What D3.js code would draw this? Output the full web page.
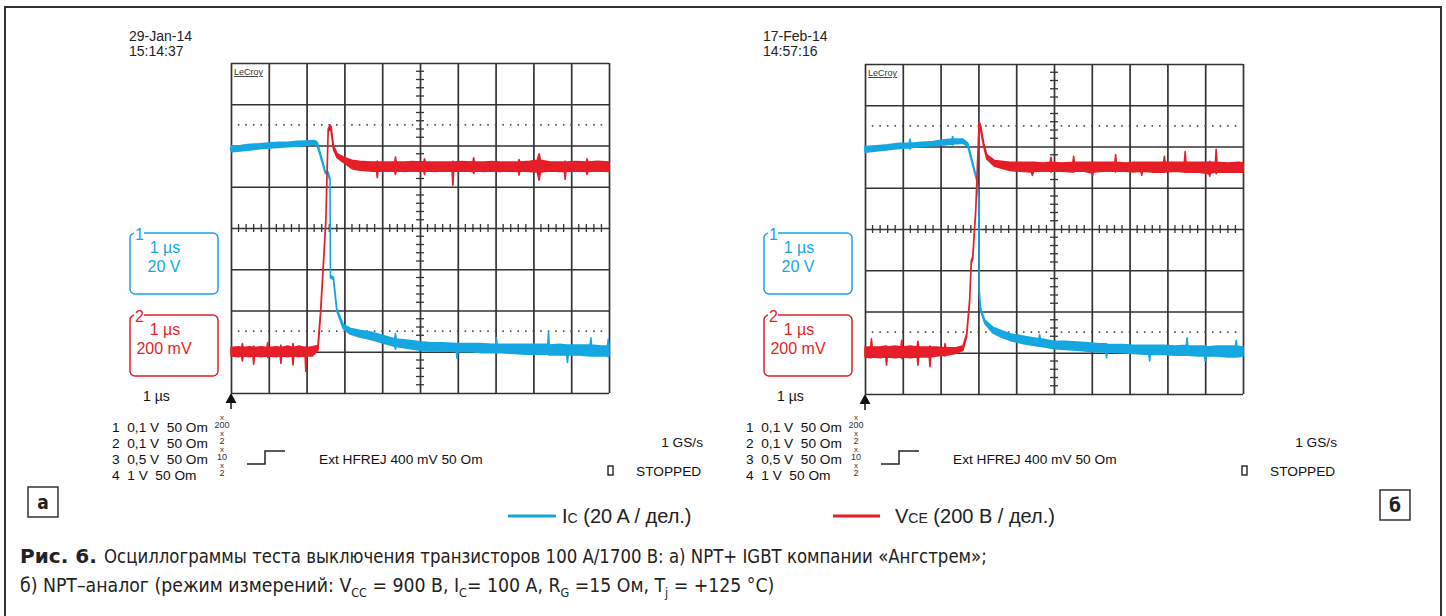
<!DOCTYPE html>
<html><head><meta charset="utf-8">
<script src="https://cdn.jsdelivr.net/npm/d3@7"></script>
<style>
html,body{margin:0;padding:0;background:#fff;}
svg{display:block;}
text{font-family:"Liberation Sans",Arial,sans-serif;}
.cap{font-family:"Liberation Sans Narrow","DejaVu Sans Condensed","Liberation Sans",sans-serif;font-stretch:condensed;}
</style>
</head><body>
<script>
// ---------- data (time in divisions 0..10, value in divisions -4..4: [t, low, high]) ----------
const icA = [[0,1.85,1.99],[0.25,1.87,2.00],[0.5,1.89,2.03],[0.75,1.92,2.04],[1.0,1.94,2.06],[1.25,1.95,2.08],[1.5,1.97,2.08],[1.75,1.98,2.10],[2.0,2.00,2.11],[2.2,2.03,2.12],[2.28,2.00,2.08],[2.35,1.79,1.86],[2.49,1.33,1.39],[2.57,1.30,1.36],[2.62,1.13,1.19],[2.63,-1.21,-1.15],[2.71,-1.25,-1.19],[2.80,-2.02,-1.96],[2.97,-2.44,-2.34],[3.15,-2.57,-2.43],[3.4,-2.64,-2.48],[3.7,-2.70,-2.52],[4.0,-2.78,-2.60],[4.3,-2.86,-2.68],[4.33,-2.87,-2.68],[4.35,-2.94,-2.56],[4.37,-2.87,-2.69],[4.7,-2.92,-2.72],[5.0,-2.96,-2.76],[5.3,-2.98,-2.78],[5.6,-2.98,-2.78],[5.96,-2.99,-2.80],[5.98,-3.16,-2.80],[6.00,-2.99,-2.80],[6.3,-3.00,-2.80],[6.6,-3.02,-2.80],[6.9,-3.02,-2.82],[7.0,-3.02,-2.82],[7.02,-3.02,-2.66],[7.04,-3.02,-2.82],[7.5,-3.04,-2.82],[7.8,-3.06,-2.82],[8.1,-3.06,-2.82],[8.38,-3.06,-2.82],[8.40,-3.08,-2.52],[8.42,-3.07,-2.84],[8.7,-3.08,-2.82],[8.88,-3.08,-2.84],[8.90,-3.26,-2.84],[8.92,-3.08,-2.84],[9.2,-3.08,-2.84],[9.5,-3.10,-2.84],[9.52,-3.10,-2.66],[9.54,-3.10,-2.84],[9.8,-3.10,-2.86],[9.96,-3.10,-2.86],[9.98,-3.12,-2.70],[10,-3.10,-2.84]];
const vceA = [[0,-3.10,-2.90],[0.2,-3.12,-2.88],[0.28,-3.10,-2.90],[0.30,-3.22,-2.80],[0.32,-3.10,-2.90],[0.5,-3.12,-2.88],[0.58,-3.10,-2.90],[0.60,-3.30,-2.86],[0.62,-3.10,-2.90],[0.8,-3.12,-2.88],[0.95,-3.10,-2.90],[0.97,-3.14,-2.78],[0.99,-3.10,-2.90],[1.2,-3.12,-2.88],[1.30,-3.10,-2.90],[1.32,-3.28,-2.84],[1.34,-3.10,-2.90],[1.5,-3.12,-2.86],[1.62,-3.10,-2.90],[1.64,-3.32,-2.80],[1.66,-3.10,-2.90],[1.8,-3.12,-2.86],[1.96,-3.10,-2.90],[1.98,-3.48,-2.88],[2.00,-3.10,-2.90],[2.15,-3.10,-2.88],[2.3,-2.96,-2.85],[2.37,-2.10,-2.02],[2.51,0.15,0.22],[2.57,2.33,2.40],[2.62,2.40,2.50],[2.65,2.35,2.45],[2.71,1.90,2.00],[2.81,1.70,1.80],[3.02,1.56,1.70],[3.2,1.44,1.64],[3.4,1.40,1.62],[3.7,1.38,1.60],[3.85,1.38,1.60],[3.87,1.22,1.62],[3.89,1.38,1.60],[4.1,1.38,1.60],[4.33,1.38,1.60],[4.35,1.30,1.72],[4.37,1.38,1.60],[4.6,1.37,1.60],[4.8,1.38,1.61],[5.0,1.37,1.60],[5.1,1.38,1.60],[5.12,1.30,1.68],[5.14,1.38,1.60],[5.4,1.37,1.60],[5.6,1.38,1.60],[5.85,1.38,1.60],[5.87,1.04,1.62],[5.89,1.38,1.60],[6.1,1.38,1.61],[6.4,1.37,1.60],[6.42,1.32,1.70],[6.44,1.38,1.60],[6.7,1.37,1.60],[6.9,1.38,1.61],[7.1,1.37,1.60],[7.3,1.38,1.60],[7.6,1.37,1.60],[7.62,1.28,1.66],[7.64,1.38,1.60],[7.9,1.37,1.62],[8.1,1.36,1.64],[8.15,1.16,1.80],[8.19,1.36,1.64],[8.45,1.38,1.60],[8.7,1.37,1.60],[8.82,1.37,1.60],[8.84,1.18,1.62],[8.86,1.37,1.60],[9.1,1.38,1.61],[9.4,1.37,1.60],[9.42,1.30,1.68],[9.44,1.37,1.60],[9.7,1.38,1.62],[10,1.37,1.60]];
const icB = [[0,1.86,2.00],[0.3,1.89,2.02],[0.6,1.92,2.04],[0.9,1.95,2.08],[1.17,1.97,2.08],[1.19,1.94,2.18],[1.21,1.97,2.08],[1.5,2.00,2.10],[1.8,2.02,2.12],[2.1,2.04,2.16],[2.3,2.06,2.18],[2.32,2.04,2.24],[2.34,2.06,2.18],[2.59,2.08,2.18],[2.72,2.00,2.08],[2.91,1.33,1.39],[2.96,1.16,1.22],[3.01,0.67,0.73],[3.02,-1.51,-1.45],[3.06,-1.99,-1.93],[3.17,-2.29,-2.21],[3.38,-2.52,-2.38],[3.6,-2.62,-2.46],[3.83,-2.70,-2.54],[4.2,-2.78,-2.60],[4.6,-2.84,-2.66],[4.62,-2.84,-2.56],[4.64,-2.84,-2.66],[5.0,-2.90,-2.72],[5.3,-2.92,-2.72],[5.6,-2.94,-2.74],[5.9,-2.96,-2.76],[6.2,-2.98,-2.78],[6.37,-2.98,-2.78],[6.39,-3.12,-2.78],[6.41,-2.98,-2.80],[6.8,-3.00,-2.80],[7.1,-3.02,-2.82],[7.51,-3.04,-2.82],[7.53,-3.20,-2.82],[7.55,-3.04,-2.82],[7.9,-3.04,-2.82],[8.2,-3.06,-2.84],[8.5,-3.06,-2.82],[8.52,-3.06,-2.64],[8.54,-3.06,-2.84],[8.8,-3.08,-2.84],[8.98,-3.08,-2.84],[9.0,-3.20,-2.84],[9.02,-3.08,-2.86],[9.3,-3.08,-2.84],[9.6,-3.10,-2.84],[9.8,-3.10,-2.84],[9.82,-3.10,-2.70],[9.84,-3.10,-2.84],[10,-3.08,-2.86]];
const vceB = [[0,-3.10,-2.86],[0.15,-3.12,-2.86],[0.17,-3.12,-2.66],[0.19,-3.10,-2.86],[0.4,-3.12,-2.86],[0.55,-3.10,-2.84],[0.57,-3.30,-2.84],[0.59,-3.10,-2.86],[0.8,-3.12,-2.84],[0.95,-3.10,-2.86],[0.97,-3.14,-2.70],[0.99,-3.10,-2.86],[1.2,-3.12,-2.84],[1.38,-3.10,-2.86],[1.40,-3.30,-2.72],[1.42,-3.10,-2.86],[1.6,-3.10,-2.86],[1.70,-3.10,-2.86],[1.72,-3.34,-2.84],[1.74,-3.10,-2.86],[1.9,-3.08,-2.86],[2.1,-3.06,-2.88],[2.12,-3.08,-2.78],[2.14,-3.06,-2.88],[2.4,-3.02,-2.88],[2.59,-2.94,-2.84],[2.69,-2.60,-2.54],[2.77,-1.75,-1.69],[2.81,-0.83,-0.77],[2.85,-0.73,-0.67],[2.93,0.43,0.49],[2.99,1.88,1.94],[3.02,2.50,2.60],[3.06,2.40,2.50],[3.14,2.00,2.08],[3.22,1.70,1.80],[3.43,1.52,1.66],[3.83,1.42,1.62],[4.1,1.40,1.62],[4.4,1.38,1.62],[4.43,1.30,1.62],[4.46,1.40,1.62],[4.7,1.40,1.60],[4.9,1.40,1.62],[4.92,1.38,1.74],[4.94,1.40,1.62],[5.2,1.40,1.60],[5.5,1.38,1.62],[5.52,1.38,1.76],[5.54,1.40,1.62],[5.8,1.40,1.62],[6.0,1.36,1.62],[6.02,1.30,1.62],[6.04,1.38,1.62],[6.3,1.40,1.62],[6.61,1.40,1.62],[6.63,1.38,1.80],[6.65,1.40,1.62],[6.9,1.40,1.60],[7.1,1.38,1.62],[7.3,1.40,1.62],[7.32,1.30,1.62],[7.34,1.40,1.62],[7.6,1.38,1.62],[7.9,1.38,1.62],[7.92,1.38,1.76],[7.94,1.38,1.62],[8.2,1.40,1.62],[8.45,1.38,1.62],[8.47,1.38,1.88],[8.49,1.38,1.62],[8.8,1.38,1.62],[9.1,1.34,1.62],[9.12,1.28,1.64],[9.14,1.36,1.62],[9.27,1.38,1.62],[9.29,1.34,1.93],[9.31,1.38,1.62],[9.6,1.38,1.60],[9.9,1.38,1.62],[10,1.38,1.60]];

const panelLetters = ["а", "б"];
const dates = ["29-Jan-14", "17-Feb-14"];
const clocks = ["15:14:37", "14:57:16"];
const chanRows = ["1  0,1 V  50 Om", "2  0,1 V  50 Om", "3  0,5 V  50 Om", "4  1 V  50 Om"];
const probeFactors = ["200", "2", "10", "2"];
const box1 = ["1 µs", "20 V"];
const box2 = ["1 µs", "200 mV"];
const timebase = "1 µs";
const triggerText = "Ext HFREJ 400 mV 50 Om";
const sampleRate = "1 GS/s";
const statusText = "STOPPED";
const dotLevels = [2.5, -2.5];

const BLUE = "#14a7e2", RED = "#e61e27", GRID = "#333";

const svg = d3.select("body").append("svg").attr("width", 1446).attr("height", 616);

// outer frame
svg.append("path").attr("d", "M5,616V7H1441V616").attr("fill", "none").attr("stroke", "#333").attr("stroke-width", 2);

function drawPanel(i, ox, oy, ic, vce) {
  const gw = 378, gh = 330;
  const x = d3.scaleLinear().domain([0, 10]).range([ox, ox + gw]);
  const y = d3.scaleLinear().domain([-4, 4]).range([oy + gh, oy]);
  const g = svg.append("g");

  // header
  g.append("text").attr("x", ox - 102).attr("y", 41).attr("font-size", 14).attr("fill", "#222").text(dates[i]);
  g.append("text").attr("x", ox - 102).attr("y", 56).attr("font-size", 14).attr("fill", "#222").text(clocks[i]);

  // grid via axes
  const gx = g.append("g").attr("transform", `translate(0,${oy + gh})`)
    .call(d3.axisBottom(x).tickValues(d3.range(0, 11)).tickSize(gh).tickFormat("").tickSizeOuter(0));
  gx.selectAll(".tick line").attr("y2", -gh).attr("stroke", GRID).attr("stroke-width", 1.7);
  gx.select(".domain").remove();
  const gy = g.append("g").attr("transform", `translate(${ox},0)`)
    .call(d3.axisLeft(y).tickValues(d3.range(-4, 5)).tickSize(-gw).tickFormat("").tickSizeOuter(0));
  gy.selectAll(".tick line").attr("stroke", GRID).attr("stroke-width", 1.7);
  gy.select(".domain").remove();

  // center graduations
  const subV = d3.range(-4, 4.001, 0.2).filter(v => Math.abs(v - Math.round(v)) > 0.01);
  g.append("g").selectAll("line").data(subV).join("line")
    .attr("x1", x(5) - 4).attr("x2", x(5) + 4).attr("y1", d => y(d)).attr("y2", d => y(d))
    .attr("stroke", GRID).attr("stroke-width", 1.3);
  const subH = d3.range(0, 10.001, 0.2).filter(v => Math.abs(v - Math.round(v)) > 0.01);
  g.append("g").selectAll("line").data(subH).join("line")
    .attr("y1", y(0) - 4).attr("y2", y(0) + 4).attr("x1", d => x(d)).attr("x2", d => x(d))
    .attr("stroke", GRID).attr("stroke-width", 1.3);

  // dotted reference levels
  dotLevels.forEach(lv => {
    g.append("g").selectAll("rect").data(d3.range(0.2, 10, 0.2)).join("rect")
      .attr("x", d => x(d) - 0.8).attr("y", y(lv) - 0.8).attr("width", 1.6).attr("height", 1.6).attr("fill", "#444");
  });

  // LeCroy
  g.append("text").attr("x", ox + 3).attr("y", oy + 12).attr("font-size", 9).attr("fill", "#333")
    .attr("text-decoration", "underline").text("LeCroy");

  // traces
  const area = d3.area().x(d => x(d[0])).y0(d => y(d[1])).y1(d => y(d[2]));
  g.append("path").datum(ic).attr("d", area).attr("fill", BLUE).attr("stroke", BLUE)
    .attr("stroke-width", 1.6).attr("stroke-linejoin", "round");
  g.append("path").datum(vce).attr("d", area).attr("fill", RED).attr("stroke", RED)
    .attr("stroke-width", 1.6).attr("stroke-linejoin", "round");

  // trigger arrow
  const tx = x(0), ty = y(-4);
  g.append("path").attr("d", `M${tx},${ty}L${tx - 5.5},${ty + 10}L${tx + 5.5},${ty + 10}Z`).attr("fill", "#111");
  g.append("line").attr("x1", tx).attr("x2", tx).attr("y1", ty + 8).attr("y2", ty + 16).attr("stroke", "#111").attr("stroke-width", 1.5);

  // channel boxes
  const bx = ox - 101;
  [[box1, BLUE, 233, "1"], [box2, RED, 315, "2"]].forEach(([lines, col, by, num]) => {
    g.append("rect").attr("x", bx).attr("y", by).attr("width", 88).attr("height", 61).attr("rx", 5)
      .attr("fill", "none").attr("stroke", col).attr("stroke-width", 1.5);
    g.append("rect").attr("x", bx + 4).attr("y", by - 8).attr("width", 10).attr("height", 14).attr("fill", "#fff");
    g.append("text").attr("x", bx + 5).attr("y", by + 7).attr("font-size", 16).attr("fill", col).text(num);
    g.append("text").attr("x", bx + 35).attr("y", by + 20).attr("font-size", 16).attr("text-anchor", "middle").attr("fill", col).text(lines[0]);
    g.append("text").attr("x", bx + 34).attr("y", by + 39).attr("font-size", 16).attr("text-anchor", "middle").attr("fill", col).text(lines[1]);
  });

  g.append("text").attr("x", ox - 88).attr("y", 401).attr("font-size", 14).attr("fill", "#111").text(timebase);

  // channel setup rows
  chanRows.forEach((r, k) => {
    g.append("text").attr("x", ox - 119).attr("y", 432 + 16 * k).attr("font-size", 13.7).attr("fill", "#111")
      .style("white-space", "pre").attr("xml:space", "preserve").text(r);
    g.append("text").attr("x", ox - 9).attr("y", 420 + 16 * k).attr("font-size", 8).attr("text-anchor", "middle").attr("fill", "#333").text("x");
    g.append("text").attr("x", ox - 9).attr("y", 428 + 16 * k).attr("font-size", 9).attr("text-anchor", "middle").attr("fill", "#333").text(probeFactors[k]);
  });

  // trigger step symbol
  g.append("path").attr("d", `M${ox + 16},464H${ox + 34}V451H${ox + 54}`).attr("fill", "none").attr("stroke", "#222").attr("stroke-width", 1.5);
  g.append("text").attr("x", ox + 88).attr("y", 464).attr("font-size", 13.7).attr("fill", "#111").text(triggerText);
  g.append("text").attr("x", ox + 472).attr("y", 447).attr("font-size", 13.7).attr("text-anchor", "end").attr("fill", "#111").text(sampleRate);
  g.append("rect").attr("x", ox + 377).attr("y", 466).attr("width", 5).attr("height", 9).attr("fill", "none").attr("stroke", "#111").attr("stroke-width", 1.3);
  g.append("text").attr("x", ox + 405).attr("y", 476).attr("font-size", 13.7).attr("fill", "#111").text(statusText);
}

drawPanel(0, 231, 63, icA, vceA);
drawPanel(1, 865, 64, icB, vceB);

// panel letter boxes
[[28, 487, 0], [1380, 490, 1]].forEach(([bx, by, k]) => {
  svg.append("rect").attr("x", bx).attr("y", by).attr("width", 30).attr("height", 30).attr("fill", "#fff").attr("stroke", "#333").attr("stroke-width", 1.5);
  svg.append("text").attr("class", "cap").attr("x", bx + 15).attr("y", by + 22).attr("font-size", 19).attr("font-weight", "bold")
    .attr("text-anchor", "middle").attr("fill", "#222").text(panelLetters[k]);
});

// legend
svg.append("line").attr("x1", 508).attr("x2", 556).attr("y1", 516).attr("y2", 516).attr("stroke", BLUE).attr("stroke-width", 3);
const l1 = svg.append("text").attr("x", 562).attr("y", 523).attr("font-size", 20).attr("fill", "#222");
l1.append("tspan").text("I");
l1.append("tspan").attr("font-size", 14).text("C");
l1.append("tspan").text(" (20 A / дел.)");
svg.append("line").attr("x1", 833).attr("x2", 880).attr("y1", 516).attr("y2", 516).attr("stroke", RED).attr("stroke-width", 3);
const l2 = svg.append("text").attr("x", 895).attr("y", 523).attr("font-size", 20).attr("fill", "#222");
l2.append("tspan").text("V");
l2.append("tspan").attr("font-size", 14).text("CE");
l2.append("tspan").text(" (200 В / дел.)");

// caption: fit a text to a given width by horizontal scaling
function fitWidth(sel, x0, w) {
  const n = sel.node().getComputedTextLength();
  if (n > 0) sel.attr("transform", `translate(${x0},0) scale(${w / n},1) translate(${-x0},0)`);
}
const c0 = svg.append("text").attr("class", "cap").attr("x", 20).attr("y", 563).attr("font-size", 20).attr("font-weight", "bold")
  .attr("fill", "#222").text("Рис. 6.");
fitWidth(c0, 20, 77);
const c1 = svg.append("text").attr("class", "cap").attr("x", 104).attr("y", 563).attr("font-size", 20).attr("fill", "#222")
  .text("Осциллограммы теста выключения транзисторов 100 А/1700 В: а) NPT+ IGBT компании «Ангстрем»;");
fitWidth(c1, 104, 883);
const c2 = svg.append("text").attr("class", "cap").attr("x", 20).attr("y", 592).attr("font-size", 20).attr("fill", "#222");
const parts = [["б) NPT–аналог (режим измерений: V", 0], ["CC", 1], [" = 900 В, I", 0], ["C", 1], ["= 100 А, R", 0], ["G", 1], [" =15 Ом, T", 0], ["j", 1], [" = +125 °С)", 0]];
parts.forEach(([t, sub]) => {
  const ts = c2.append("tspan").text(t);
  if (sub) ts.attr("font-size", 13).attr("dy", 5);
  else ts.attr("dy", ts.node().previousSibling ? -5 : 0);
});
fitWidth(c2, 20, 755);
</script>
</body></html>
